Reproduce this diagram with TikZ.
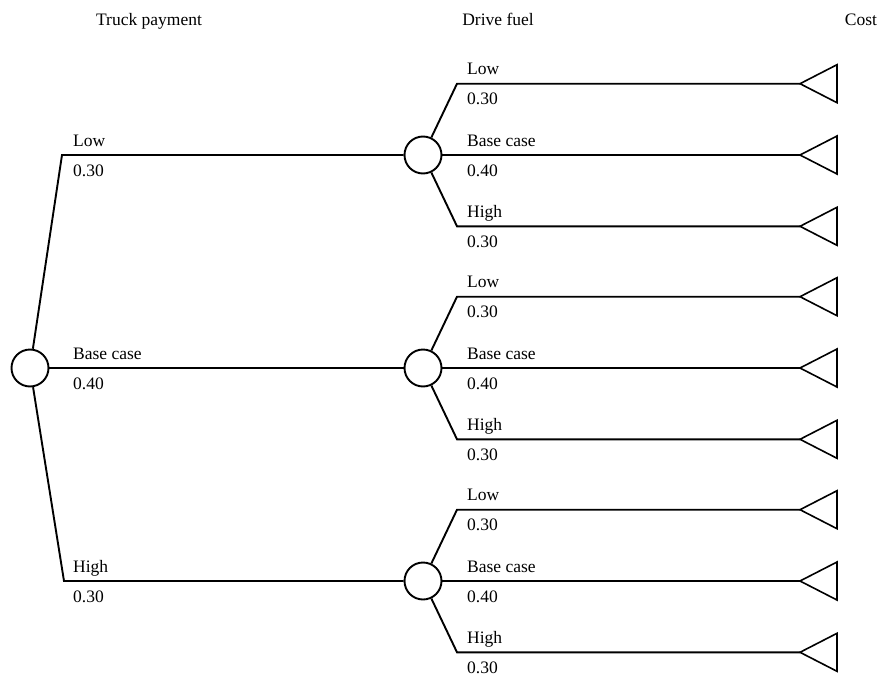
\documentclass[tikz,border=0pt]{standalone}
\usepackage{fontspec}
\setmainfont{Liberation Serif}
\newcommand\lblfont{\fontsize{17.5}{20}\selectfont}
\begin{document}
\begin{tikzpicture}[x=1pt,y=-1pt,
  chance/.style={circle,draw,line width=1.9pt,minimum size=37pt,inner sep=0pt},
  br/.style={line width=1.9pt},
  term/.style={line width=1.6pt,line join=miter},
  lab/.style={anchor=base west,inner sep=0pt,font=\lblfont},
  hdr/.style={anchor=base,inner sep=0pt,font=\lblfont}]
\useasboundingbox (0,0) rectangle (881,680);
% headers
\node[hdr] (h1) at (149,25) {Truck payment};
\node[hdr] (h2) at (498,25) {Drive fuel};
\node[hdr] (h3) at (861,25) {Cost};
% root
\node[chance] (r) at (30,368) {};
\coordinate (ra) at (62,155);
\coordinate (rc) at (64,581);
\node[chance] (c1) at (423,155) {};
\node[chance] (c2) at (423,368) {};
\node[chance] (c3) at (423,581) {};
\draw[br] (r) -- (ra) -- (c1);
\draw[br] (r) -- (c2);
\draw[br] (r) -- (rc) -- (c3);
\node[lab] (rl1) at (73,146) {Low};
\node[lab] (rp1) at (73,176) {0.30};
\node[lab] (rl2) at (73,359) {Base case};
\node[lab] (rp2) at (73,389) {0.40};
\node[lab] (rl3) at (73,572) {High};
\node[lab] (rp3) at (73,602) {0.30};
% second level
\foreach \i/\y in {1/155,2/368,3/581} {
  \coordinate (u\i) at (457,\y-71.3);
  \coordinate (d\i) at (457,\y+71.3);
  \coordinate (tu\i) at (800,\y-71.3);
  \coordinate (tm\i) at (800,\y);
  \coordinate (td\i) at (800,\y+71.3);
  \draw[br] (c\i) -- (u\i) -- (tu\i);
  \draw[br] (c\i) -- (tm\i);
  \draw[br] (c\i) -- (d\i) -- (td\i);
  \draw[term] (tu\i) -- ++(37,-19) -- ++(0,38) -- cycle;
  \draw[term] (tm\i) -- ++(37,-19) -- ++(0,38) -- cycle;
  \draw[term] (td\i) -- ++(37,-19) -- ++(0,38) -- cycle;
  \node[lab] (la\i) at (467,\y-80.3) {Low};
  \node[lab] (pa\i) at (467,\y-50.3) {0.30};
  \node[lab] (lb\i) at (467,\y-9) {Base case};
  \node[lab] (pb\i) at (467,\y+21) {0.40};
  \node[lab] (lc\i) at (467,\y+62.3) {High};
  \node[lab] (pc\i) at (467,\y+92.3) {0.30};
}
\end{tikzpicture}
\end{document}
